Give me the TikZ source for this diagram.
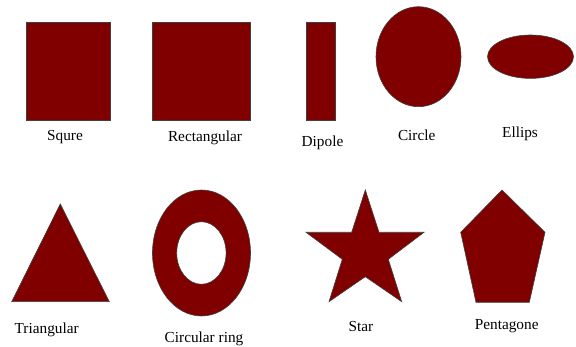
\documentclass[tikz,border=0pt]{standalone}
\usepackage{fontspec}
\setmainfont{Liberation Serif}
\usepackage{xcolor}
\definecolor{maroonfill}{HTML}{800000}

\begin{document}
\begin{tikzpicture}[
  x=1pt, y=-1pt,
  patch/.style={fill=maroonfill, draw=black!75, line width=0.6pt},
  lbl/.style={font=\fontsize{15.3}{17}\selectfont, inner sep=0pt}
]
  \useasboundingbox (0,0) rectangle (576,347);

  % top row
  \draw[patch] (26,22) rectangle (110,120);
  \draw[patch] (152,22) rectangle (250.5,120);
  \draw[patch] (306.5,22) rectangle (335,120);
  \draw[patch] (418.5,56.7) ellipse [x radius=42.5, y radius=50];
  \draw[patch] (530.5,56.7) ellipse [x radius=43, y radius=21.7];

  \node[lbl] (squre) at (65,137) {Squre};
  \node[lbl] (rect) at (205,138) {Rectangular};
  \node[lbl] (dipole) at (322.5,143) {Dipole};
  \node[lbl] (circ) at (416.7,135) {Circle};
  \node[lbl] (ellips) at (520,134) {Ellips};

  % bottom row
  \draw[patch] (60.3,204) -- (109.3,301.7) -- (11.7,301.7) -- cycle;
  \draw[patch, even odd rule] (201.5,253) ellipse [x radius=49, y radius=63]
    (201.4,253) ellipse [x radius=24.7, y radius=31.3];
  \draw[patch] (365.3,190) -- (379,232.3) -- (424,232.3) -- (388.3,259.3)
    -- (401.7,301.7) -- (365.3,276.7) -- (329,301.7) -- (342.3,259.3)
    -- (306,232.3) -- (351.7,232.3) -- cycle;
  \draw[patch] (502,190) -- (545,232.3) -- (529.3,302.3) -- (476,302.3)
    -- (460.7,232.3) -- cycle;

  \node[lbl] (tri) at (46.7,330) {Triangular};
  \node[lbl] (ring) at (204,339) {Circular ring};
  \node[lbl] (star) at (361,327) {Star};
  \node[lbl] (penta) at (506.7,326) {Pentagone};
\end{tikzpicture}
\end{document}
